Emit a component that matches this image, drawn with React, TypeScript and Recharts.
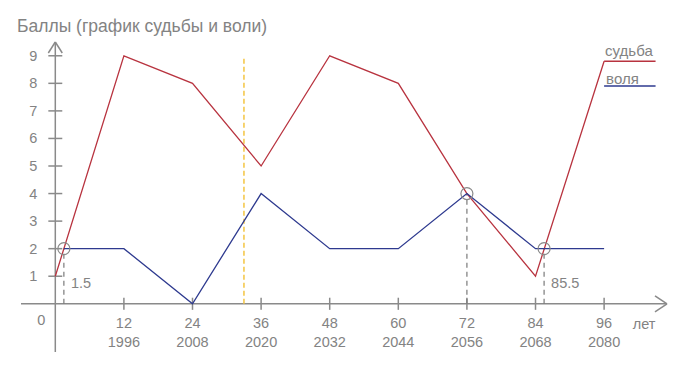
import { LineChart, Line, XAxis, YAxis, ReferenceLine, ReferenceDot } from 'recharts';

// судьба (fate)
const fateAges = [0, 12, 24, 36, 48, 60, 72, 84, 96];
const fateScores = [1, 9, 8, 5, 9, 8, 4, 1, 8.8];
// воля (will)
const willAges = [1.5, 12, 24, 36, 48, 60, 72, 84, 96];
const willScores = [2, 2, 0, 4, 2, 2, 4, 2, 2];

const ageTicks = [12, 24, 36, 48, 60, 72, 84, 96];
const yearTicks = ['1996', '2008', '2020', '2032', '2044', '2056', '2068', '2080'];
const scoreTicks = [1, 2, 3, 4, 5, 6, 7, 8, 9];

const crossAges = [1.5, 72, 85.5];
const crossScores = [2, 4, 2];
const crossLabels = ['1.5', '', '85.5'];

const markerAge = 33;
const markerTop = 9;

const legendNames = ['судьба', 'воля'];
const legendLevels = [8.8, 7.9];
const legendFrom = 96;
const legendTo = 105;

const X_DOMAIN: [number, number] = [-6, 107];
const Y_DOMAIN: [number, number] = [-1.75, 9.5];
const UNIT_AGE = 101;

const RED = '#b8333f';
const BLUE = '#2e3a8f';
const AXIS = '#8a8a8a';
const TEXT = '#838383';
const FONT = '"Liberation Sans", Arial, sans-serif';

const fateData = fateAges.map((a, i) => ({ age: a, score: fateScores[i] }));
const willData = willAges.map((a, i) => ({ age: a, score: willScores[i] }));

// tick half-lengths in data units
const TX = 1.22;
const TY = 0.22;

export default function App() {
    const xTickLabel = (i: number) => (props: any) => {
        const { x, y } = props.viewBox;
        return (
            <text x={x} textAnchor="middle" fill={TEXT} fontSize={14.5} fontFamily={FONT}>
                <tspan x={x} y={y + 24}>{ageTicks[i]}</tspan>
                <tspan x={x} y={y + 43}>{yearTicks[i]}</tspan>
            </text>
        );
    };

    const yTickLabel = (v: number) => (props: any) => {
        const { x, y } = props.viewBox;
        return (
            <text x={x - 18} y={y + 5} textAnchor="end" fill={TEXT} fontSize={14.5} fontFamily={FONT}>
                {v}
            </text>
        );
    };

    const plainLabel = (txt: string, dx: number, dy: number, size = 14.5) => (props: any) => {
        const { x, y } = props.viewBox;
        return (
            <text x={x + dx} y={y + dy} textAnchor="start" fill={TEXT} fontSize={size} fontFamily={FONT}>
                {txt}
            </text>
        );
    };

    return (
        <div style={{ position: 'absolute', left: 0, top: 0, width: 691, height: 379, background: '#fff' }}>
            <div
                style={{
                    position: 'absolute',
                    left: 17,
                    top: 16,
                    fontFamily: FONT,
                    fontSize: 17.5,
                    color: TEXT,
                    whiteSpace: 'nowrap',
                }}
            >
                Баллы (график судьбы и воли)
            </div>
            <LineChart
                width={691}
                height={379}
                margin={{ top: 42, right: 24, bottom: 27, left: 21 }}
                style={{ position: 'absolute', left: 0, top: 0 }}
            >
                <XAxis dataKey="age" type="number" domain={X_DOMAIN} hide allowDataOverflow />
                <YAxis dataKey="score" type="number" domain={Y_DOMAIN} hide allowDataOverflow />

                {/* axes */}
                <ReferenceLine segment={[{ x: X_DOMAIN[0], y: 0 }, { x: X_DOMAIN[1], y: 0 }]} stroke={AXIS} strokeWidth={1.5} />
                <ReferenceLine segment={[{ x: 0, y: Y_DOMAIN[0] }, { x: 0, y: Y_DOMAIN[1] }]} stroke={AXIS} strokeWidth={1.5} />
                {/* arrows */}
                <ReferenceLine segment={[{ x: X_DOMAIN[1] - 2.1, y: 0.29 }, { x: X_DOMAIN[1], y: 0 }]} stroke={AXIS} strokeWidth={1.5} />
                <ReferenceLine segment={[{ x: X_DOMAIN[1] - 2.1, y: -0.29 }, { x: X_DOMAIN[1], y: 0 }]} stroke={AXIS} strokeWidth={1.5} />
                <ReferenceLine segment={[{ x: -TX, y: Y_DOMAIN[1] - 0.4 }, { x: 0, y: Y_DOMAIN[1] }]} stroke={AXIS} strokeWidth={1.5} />
                <ReferenceLine segment={[{ x: TX, y: Y_DOMAIN[1] - 0.4 }, { x: 0, y: Y_DOMAIN[1] }]} stroke={AXIS} strokeWidth={1.5} />

                {/* x ticks */}
                {ageTicks.map((t) => (
                    <ReferenceLine key={`xt-${t}`} segment={[{ x: t, y: -TY }, { x: t, y: TY }]} stroke={AXIS} strokeWidth={1.5} />
                ))}
                {ageTicks.map((t, i) => (
                    <ReferenceDot key={`xl-${t}`} x={t} y={0} r={0} stroke="none" fill="none" label={xTickLabel(i)} />
                ))}
                {/* y ticks */}
                {scoreTicks.map((v) => (
                    <ReferenceLine key={`yt-${v}`} segment={[{ x: -TX, y: v }, { x: TX, y: v }]} stroke={AXIS} strokeWidth={1.5} />
                ))}
                {scoreTicks.map((v) => (
                    <ReferenceDot key={`yl-${v}`} x={0} y={v} r={0} stroke="none" fill="none" label={yTickLabel(v)} />
                ))}
                <ReferenceDot x={0} y={0} r={0} stroke="none" fill="none" label={plainLabel('0', -18, 21)} />
                <ReferenceDot x={UNIT_AGE} y={0} r={0} stroke="none" fill="none" label={plainLabel('лет', 0, 25)} />

                {/* marker */}
                <ReferenceLine
                    segment={[{ x: markerAge, y: 0 }, { x: markerAge, y: markerTop }]}
                    stroke="#f4c542"
                    strokeWidth={1.5}
                    strokeDasharray="5 3"
                />

                {/* crossing drop lines */}
                {crossAges.map((a, i) => (
                    <ReferenceLine
                        key={`drop-${a}`}
                        segment={[{ x: a, y: 0 }, { x: a, y: crossScores[i] }]}
                        stroke="#7a7a7a"
                        strokeWidth={1.2}
                        strokeDasharray="5 4"
                    />
                ))}
                {crossAges.map((a, i) =>
                    crossLabels[i] ? (
                        <ReferenceDot key={`cl-${a}`} x={a} y={0} r={0} stroke="none" fill="none" label={plainLabel(crossLabels[i], 7, -16)} />
                    ) : null
                )}

                <Line data={fateData} dataKey="score" stroke={RED} strokeWidth={1.3} dot={false} isAnimationActive={false} />
                <Line data={willData} dataKey="score" stroke={BLUE} strokeWidth={1.3} dot={false} isAnimationActive={false} />

                {/* legend */}
                <ReferenceLine segment={[{ x: legendFrom, y: legendLevels[0] }, { x: legendTo, y: legendLevels[0] }]} stroke={RED} strokeWidth={1.5} />
                <ReferenceLine segment={[{ x: legendFrom, y: legendLevels[1] }, { x: legendTo, y: legendLevels[1] }]} stroke={BLUE} strokeWidth={1.5} />
                <ReferenceDot x={legendFrom} y={legendLevels[0]} r={0} stroke="none" fill="none" label={plainLabel(legendNames[0], 1, -5, 15)} />
                <ReferenceDot x={legendFrom} y={legendLevels[1]} r={0} stroke="none" fill="none" label={plainLabel(legendNames[1], 2, -2, 15)} />

                {/* crossing circles */}
                {crossAges.map((a, i) => (
                    <ReferenceDot key={`c-${a}`} x={a} y={crossScores[i]} r={6} fill="none" stroke={AXIS} strokeWidth={1.2} />
                ))}
            </LineChart>
        </div>
    );
}
